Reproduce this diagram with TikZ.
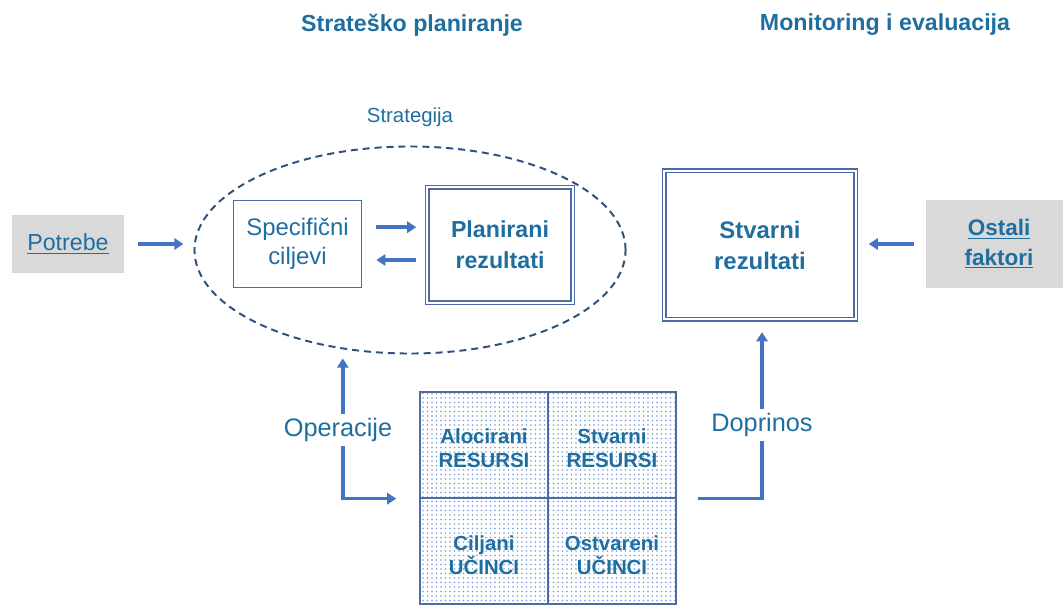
\documentclass[tikz,border=0pt]{standalone}
\usepackage{fontspec}
\setmainfont{Liberation Sans}
\usetikzlibrary{shapes.geometric,arrows.meta,patterns.meta}
\definecolor{txtblue}{RGB}{31,110,160}
\definecolor{arrblue}{RGB}{68,114,196}
\definecolor{boxblue}{RGB}{79,107,166}
\definecolor{dashblue}{RGB}{47,79,127}
\definecolor{boxgray}{RGB}{217,217,217}
\definecolor{dotblue}{RGB}{120,155,215}
\tikzset{
  arr/.style={-{Triangle[length=6.5pt,width=8pt]}, line width=2.6pt, draw=arrblue},
  lin/.style={line width=2.6pt, draw=arrblue},
  graybox/.style={fill=boxgray, text=txtblue, align=center, inner sep=0pt},
  thinbox/.style={draw=boxblue, line width=1.1pt, text=txtblue, align=center, inner sep=0pt},
  dblbox/.style={draw=boxblue, double=white, line width=1.3pt, double distance=1.1pt, text=txtblue, align=center, inner sep=0pt},
  cell/.style={draw=boxblue, line width=0.9pt, pattern={Dots[distance=3.2pt,radius=0.55pt]}, pattern color=dotblue, minimum width=3.2cm, minimum height=2.65cm, inner sep=0pt},
  celltxt/.style={text=txtblue, align=center, font=\fontsize{14.5}{17}\selectfont\bfseries},
  ttl/.style={text=txtblue, font=\fontsize{16.5}{20}\selectfont\bfseries}
}
\begin{document}
\begin{tikzpicture}[x=0.025cm,y=-0.025cm]
        \useasboundingbox (0,0) rectangle (1063,605);

        \node[ttl] (tS) at (412,25) {Strateško planiranje};
        \node[ttl] (tM) at (885,25) {Monitoring i evaluacija};

        \node[text=txtblue, font=\fontsize{14.5}{17}\selectfont] (sl) at (410,117) {Strategija};
        \node[draw=dashblue, shape=ellipse, dashed, dash pattern=on 5pt off 3.5pt, line width=1.4pt,
              minimum width=10.775cm, minimum height=5.175cm, inner sep=0pt] (str) at (410,250) {};

        \node[graybox, minimum width=2.775cm, minimum height=1.45cm, font=\fontsize{16.5}{20}\selectfont] (P) at (68,244) {\underline{Potrebe}};
        \node[thinbox, minimum width=3.2cm, minimum height=2.18cm, font=\fontsize{17}{21}\selectfont] (C) at (297.5,244) {Specifični\\ciljevi};
        \node[dblbox, minimum width=3.64cm, minimum height=2.89cm, font=\fontsize{16.5}{22}\selectfont\bfseries] (PR) at (500,245) {Planirani\\rezultati};
        \node[dblbox, minimum width=4.79cm, minimum height=3.71cm, font=\fontsize{17}{22}\selectfont\bfseries] (SR) at (760,245) {Stvarni\\rezultati};
        \node[graybox, minimum width=3.625cm, minimum height=2.175cm, font=\fontsize{16}{21}\selectfont\bfseries] (O) at (999,244) {\underline{Ostali}\\\underline{faktori}};

        \node[cell] (AR) at (484,445) {};
        \node[cell] (SRr) at (612,445) {};
        \node[cell] (CU) at (484,551) {};
        \node[cell] (OU) at (612,551) {};
        \node[celltxt] at ([yshift=-0.08cm]AR) {Alocirani\\RESURSI};
        \node[celltxt] at ([yshift=-0.08cm]SRr) {Stvarni\\RESURSI};
        \node[celltxt] at ([yshift=-0.1cm]CU) {Ciljani\\UČINCI};
        \node[celltxt] at ([yshift=-0.1cm]OU) {Ostvareni\\UČINCI};

        \node[text=txtblue, font=\fontsize{18}{22}\selectfont, inner sep=3pt] (op) at (338,430) {Operacije};
        \node[text=txtblue, font=\fontsize{18}{22}\selectfont, inner sep=3pt] (dp) at (762,425) {Doprinos};

        \draw[arr, shorten <=0.35cm, shorten >=0.25cm] (P.east) -- (P.east -| str.west);
        \draw[arr, shorten <=0.35cm, shorten >=0.25cm] ([yshift=0.42cm]C.east) -- ([yshift=0.42cm]C.east -| PR.west);
        \draw[arr, shorten <=0.25cm, shorten >=0.35cm] ([yshift=-0.4cm]C.east -| PR.west) -- ([yshift=-0.4cm]C.east);
        \draw[arr, shorten <=0.3cm, shorten >=0.3cm] (O.west) -- (O.west -| SR.east);

        \draw[arr, shorten >=0.1cm] ([xshift=0.12cm]op.north) -- ([xshift=0.12cm]op.north |- str.south);
        \draw[arr, shorten >=0.575cm] ([xshift=0.12cm]op.south) |- (AR.south west);
        \draw[lin, shorten <=0.525cm] (SRr.south east) -| (dp.south);
        \draw[arr, shorten >=0.3cm] (dp.north) -- (dp.north |- SR.south);

      \end{tikzpicture}
\end{document}
